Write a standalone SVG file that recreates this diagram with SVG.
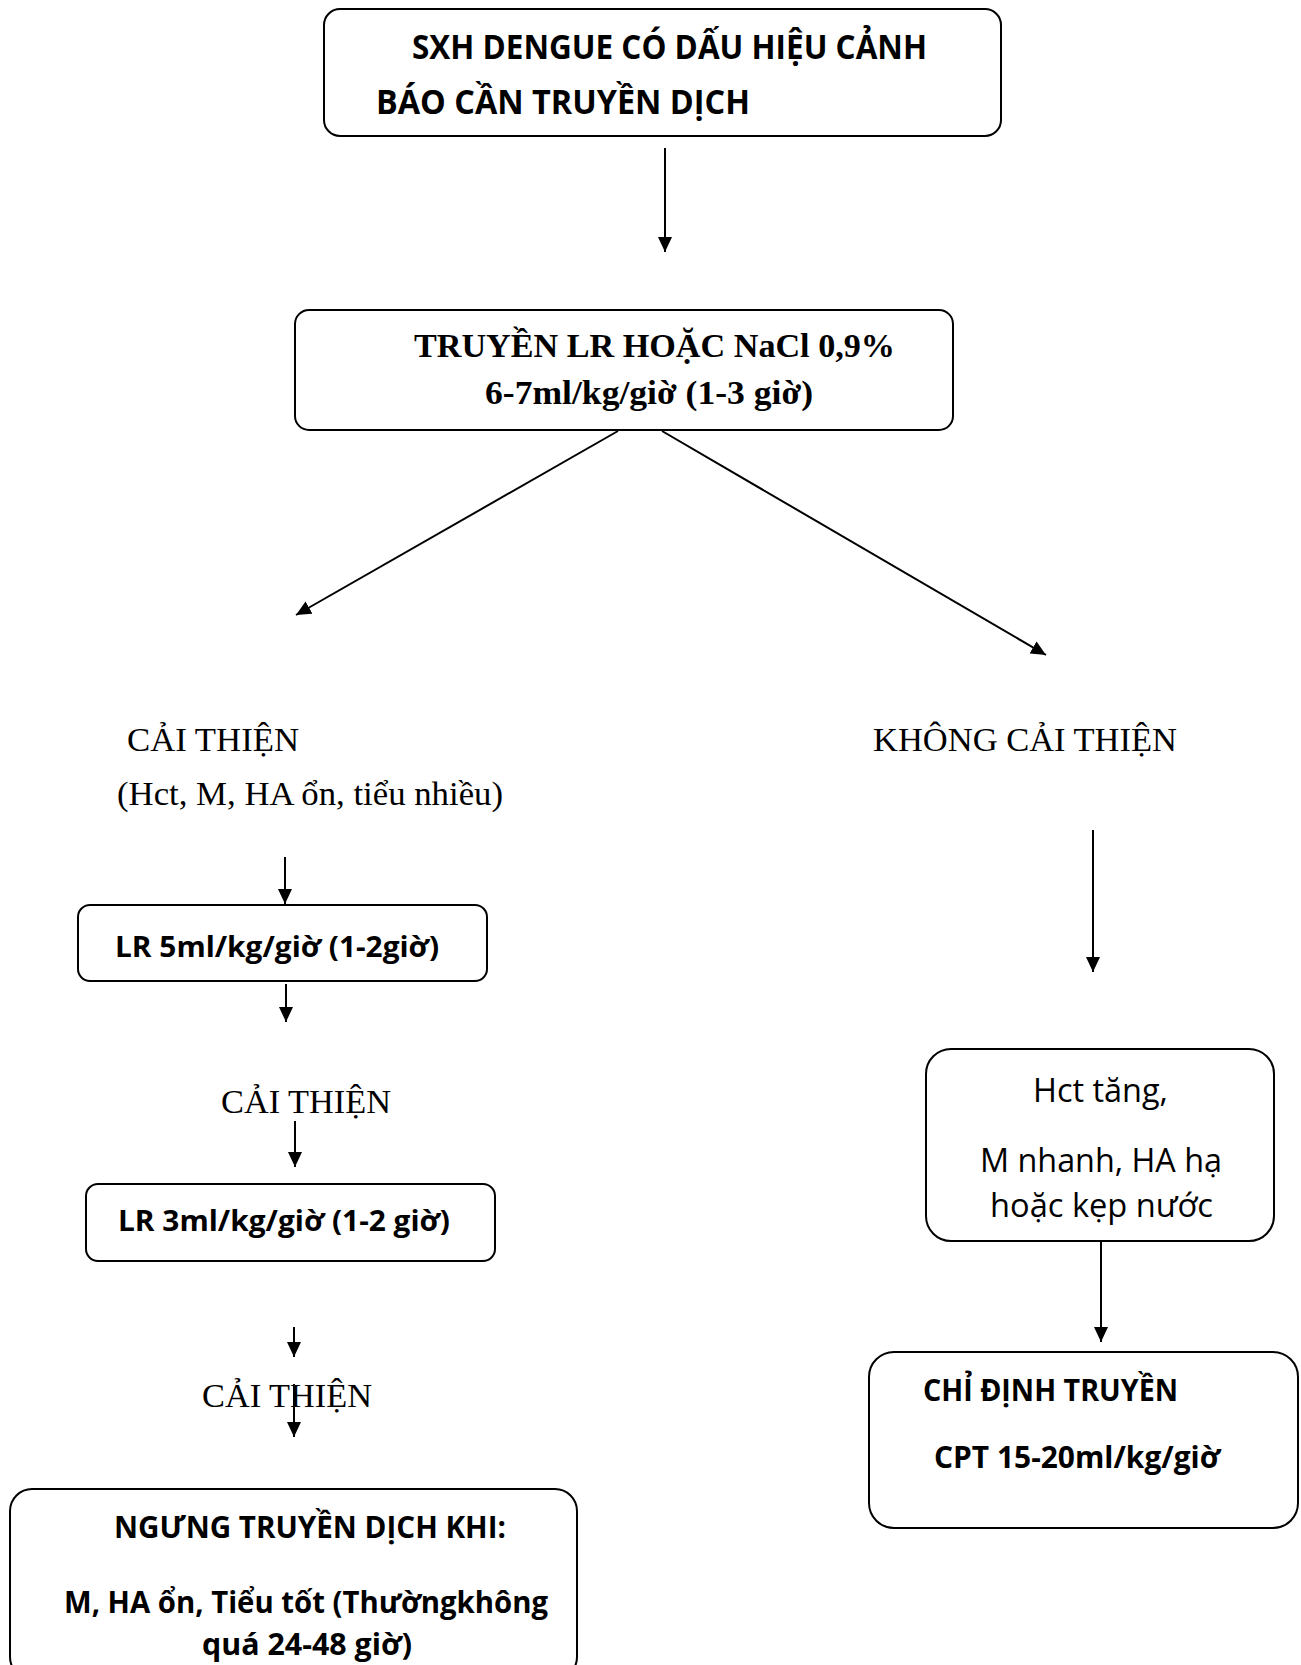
<svg xmlns="http://www.w3.org/2000/svg" width="1301" height="1665" viewBox="0 0 1301 1665">
<style>
.box{fill:#fff;stroke:#000;stroke-width:2}
.cal{font-family:"Open Sans","Noto Sans","DejaVu Sans",sans-serif;fill:#000}
.b{font-weight:bold}
.tnr{font-family:"Liberation Serif","Times New Roman",serif;fill:#000}
.con{stroke:#000;stroke-width:2;fill:none}
</style>
<defs>
<marker id="ah" markerUnits="userSpaceOnUse" markerWidth="15" markerHeight="14" refX="15" refY="7" orient="auto" viewBox="0 0 15 14">
<path d="M0,0 L15,7 L0,14 z" fill="#000"/>
</marker>
</defs>
<rect width="1301" height="1665" fill="#fff"/>
<g id="connectors">
<line class="con" x1="665" y1="148" x2="665" y2="252" marker-end="url(#ah)"/>
<line class="con" x1="618" y1="431" x2="296" y2="615" marker-end="url(#ah)"/>
<line class="con" x1="662" y1="431" x2="1046" y2="655" marker-end="url(#ah)"/>
<line class="con" x1="285" y1="857" x2="285" y2="904" marker-end="url(#ah)"/>
<line class="con" x1="286" y1="984" x2="286" y2="1022" marker-end="url(#ah)"/>
<line class="con" x1="295" y1="1121" x2="295" y2="1167" marker-end="url(#ah)"/>
<line class="con" x1="294" y1="1327" x2="294" y2="1357" marker-end="url(#ah)"/>
<line class="con" x1="294" y1="1384" x2="294" y2="1437" marker-end="url(#ah)"/>
<line class="con" x1="1093" y1="830" x2="1093" y2="972" marker-end="url(#ah)"/>
<line class="con" x1="1101" y1="1240" x2="1101" y2="1342" marker-end="url(#ah)"/>
</g>
<g id="n1">
<rect class="box" x="324" y="9" width="677" height="127" rx="16"/>
<text class="cal b" x="412" y="59" font-size="34" textLength="515" lengthAdjust="spacingAndGlyphs">SXH DENGUE CÓ DẤU HIỆU CẢNH</text>
<text class="cal b" x="376" y="114" font-size="34" textLength="374" lengthAdjust="spacingAndGlyphs">BÁO CẦN TRUYỀN DỊCH</text>
</g>
<g id="n2">
<rect class="box" x="295" y="310" width="658" height="120" rx="14"/>
<text class="tnr b" x="414" y="357" font-size="33" textLength="481" lengthAdjust="spacingAndGlyphs">TRUYỀN LR HOẶC NaCl 0,9%</text>
<text class="tnr b" x="485" y="404" font-size="33" textLength="328" lengthAdjust="spacingAndGlyphs">6-7ml/kg/giờ (1-3 giờ)</text>
</g>
<g id="n3">
<text class="tnr" x="127" y="751" font-size="33" textLength="172" lengthAdjust="spacingAndGlyphs">CẢI THIỆN</text>
<text class="tnr" x="117" y="805" font-size="33" textLength="386" lengthAdjust="spacingAndGlyphs">(Hct, M, HA ổn, tiểu nhiều)</text>
</g>
<g id="n4">
<text class="tnr" x="873" y="751" font-size="33" textLength="304" lengthAdjust="spacingAndGlyphs">KHÔNG CẢI THIỆN</text>
</g>
<g id="n5">
<rect class="box" x="78" y="905" width="409" height="76" rx="12"/>
<text class="cal b" x="115" y="957" font-size="28" textLength="324" lengthAdjust="spacingAndGlyphs">LR 5ml/kg/giờ (1-2giờ)</text>
</g>
<g id="n6">
<text class="tnr" x="221" y="1113" font-size="33" textLength="170" lengthAdjust="spacingAndGlyphs">CẢI THIỆN</text>
</g>
<g id="n7">
<rect class="box" x="86" y="1184" width="409" height="77" rx="12"/>
<text class="cal b" x="118" y="1231" font-size="28" textLength="332" lengthAdjust="spacingAndGlyphs">LR 3ml/kg/giờ (1-2 giờ)</text>
</g>
<g id="n8">
<text class="tnr" x="202" y="1407" font-size="33" textLength="170" lengthAdjust="spacingAndGlyphs">CẢI THIỆN</text>
</g>
<g id="n9">
<rect class="box" x="10" y="1489" width="567" height="190" rx="22"/>
<text class="cal b" x="114" y="1538" font-size="30" textLength="392" lengthAdjust="spacingAndGlyphs">NGƯNG TRUYỀN DỊCH KHI:</text>
<text class="cal b" x="64" y="1613" font-size="30" textLength="484" lengthAdjust="spacingAndGlyphs">M, HA ổn, Tiểu tốt (Thườngkhông</text>
<text class="cal b" x="202" y="1655" font-size="30" textLength="210" lengthAdjust="spacingAndGlyphs">quá 24-48 giờ)</text>
</g>
<g id="n10">
<rect class="box" x="926" y="1049" width="348" height="192" rx="25"/>
<text class="cal" x="1033" y="1102" font-size="32" textLength="135" lengthAdjust="spacingAndGlyphs">Hct tăng,</text>
<text class="cal" x="980" y="1172" font-size="32" textLength="242" lengthAdjust="spacingAndGlyphs">M nhanh, HA hạ</text>
<text class="cal" x="990" y="1217" font-size="32" textLength="223" lengthAdjust="spacingAndGlyphs">hoặc kẹp nước</text>
</g>
<g id="n11">
<rect class="box" x="869" y="1352" width="429" height="176" rx="25"/>
<text class="cal b" x="923" y="1401" font-size="30" textLength="255" lengthAdjust="spacingAndGlyphs">CHỈ ĐỊNH TRUYỀN</text>
<text class="cal b" x="934" y="1468" font-size="30" textLength="286" lengthAdjust="spacingAndGlyphs">CPT 15-20ml/kg/giờ</text>
</g>
</svg>
